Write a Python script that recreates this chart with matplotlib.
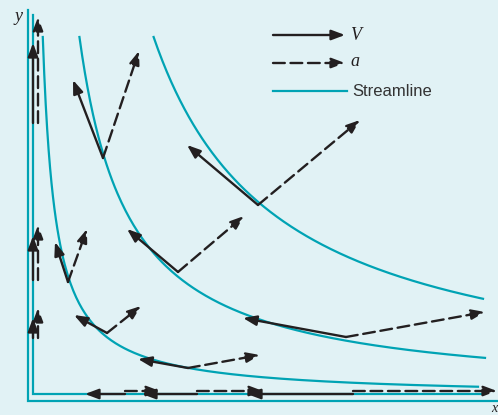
import numpy as np
import matplotlib
matplotlib.use("Agg")
import matplotlib.pyplot as plt

INK = "#231f20"
CYAN = "#00a3b4"
BG = "#e1f2f5"

# stream function values (x*y = psi) and where each streamline stops
psi = [0.46, 1.78, 4.45]
y_top = 3.60
x_end = [4.48, 4.55, 4.53]

# velocity arrows: start point and components
v_x = [0.03, 0.03, 0.03, 0.95, 1.67, 3.23, 0.38, 0.77, 1.58, 0.73, 1.48, 3.16, 2.28]
v_y = [2.74, 1.17, 0.59, 0.03, 0.03, 0.03, 1.15, 0.64, 0.29, 2.39, 1.25, 0.60, 1.92]
v_u = [0.00, 0.00, 0.00, -0.40, -0.55, -1.06, -0.13, -0.33, -0.50, -0.30, -0.51, -1.03, -0.71]
v_v = [0.80, 0.44, 0.20, 0.00, 0.00, 0.00, 0.40, 0.18, 0.09, 0.78, 0.43, 0.19, 0.60]

# acceleration arrows: start point and components
a_x = [0.08, 0.08, 0.08, 0.95, 1.67, 3.23, 0.38, 0.77, 1.58, 0.73, 1.48, 3.16, 2.28]
a_y = [2.74, 1.17, 0.59, 0.06, 0.06, 0.06, 1.15, 0.64, 0.29, 2.39, 1.25, 0.60, 1.92]
a_u = [0.00, 0.00, 0.00, 0.35, 0.66, 1.44, 0.19, 0.34, 0.72, 0.36, 0.66, 1.39, 1.02]
a_v = [1.06, 0.55, 0.30, 0.00, 0.00, 0.00, 0.53, 0.27, 0.13, 1.07, 0.56, 0.25, 0.85]


def arrow(ax, x, y, dx, dy, dashed=False):
    ls = (0, (5.0, 2.4)) if dashed else "-"
    ax.annotate("", xy=(x + dx, y + dy), xytext=(x, y),
                arrowprops=dict(arrowstyle="-|>,head_length=0.8,head_width=0.3",
                                lw=1.7, color=INK, linestyle=ls,
                                shrinkA=0, shrinkB=0, mutation_scale=10),
                zorder=4)


fig = plt.figure(figsize=(4.98, 4.15), dpi=100)
fig.patch.set_facecolor(BG)
ax = fig.add_axes([0, 0, 1, 1])
ax.set_facecolor(BG)
ax.set_xlim(-0.30, 4.68)
ax.set_ylim(-0.18, 3.97)
ax.axis("off")

# axes (outer) and the psi = 0 streamline (inner)
ax.plot([-0.02, -0.02, 4.68], [3.87, -0.04, -0.04], color=CYAN, lw=1.6, solid_joinstyle="miter")
ax.plot([0.03, 0.03, 4.51], [3.82, 0.03, 0.03], color=CYAN, lw=1.6, solid_joinstyle="miter")

for c, xe in zip(psi, x_end):
    xs = np.linspace(c / y_top, xe, 300)
    ax.plot(xs, c / xs, color=CYAN, lw=1.6, zorder=2)

for i in range(len(a_x)):
    arrow(ax, a_x[i], a_y[i], a_u[i], a_v[i], dashed=True)
for i in range(len(v_x)):
    arrow(ax, v_x[i], v_y[i], v_u[i], v_v[i])

# legend
arrow(ax, 2.43, 3.62, 0.72, 0)
arrow(ax, 2.43, 3.34, 0.72, 0, dashed=True)
ax.plot([2.43, 3.17], [3.06, 3.06], color=CYAN, lw=1.6)
ax.text(3.20, 3.62, "V", family="Liberation Serif", style="italic", fontsize=13,
        color=INK, va="center", ha="left")
ax.text(3.20, 3.36, "a", family="Liberation Serif", style="italic", fontsize=13,
        color=INK, va="center", ha="left")
ax.text(3.22, 3.06, "Streamline", family="Liberation Sans", fontsize=12,
        color="#333333", va="center", ha="left")

ax.text(-0.12, 3.81, "y", family="Liberation Serif", style="italic", fontsize=13,
        color=INK, va="center", ha="center")
ax.text(4.67, -0.175, "x", family="Liberation Serif", style="italic", fontsize=10,
        color=INK, va="bottom", ha="right")

fig.savefig("out.png", dpi=100, facecolor=BG)
